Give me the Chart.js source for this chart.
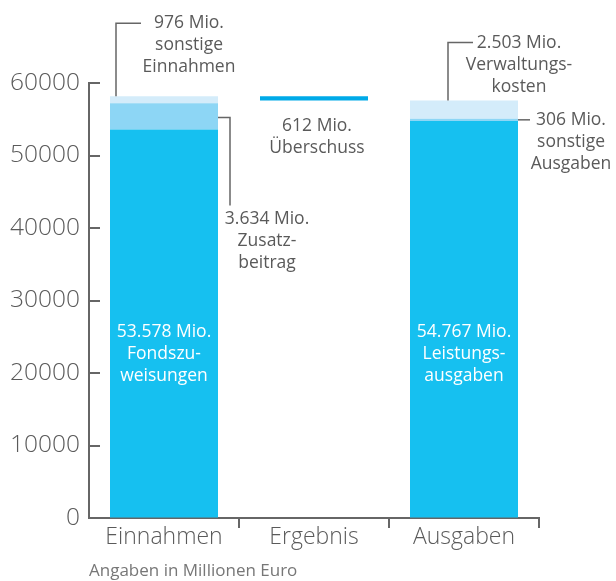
<!DOCTYPE html>
<html>
<head>
<meta charset="utf-8">
<script src="https://cdn.jsdelivr.net/npm/chart.js@4"></script>
<style>
html,body{margin:0;padding:0;background:#fff;}
#wrap{width:616px;height:581px;position:relative;}
</style>
</head>
<body>
<div id="wrap"><canvas id="c" width="616" height="581"></canvas></div>
<script>
const categories = ['Einnahmen', 'Ergebnis', 'Ausgaben'];
const baseValues = [53578, null, 54767];   // Fondszuweisungen / Leistungsausgaben
const midValues  = [3634, null, 306];      // Zusatzbeitrag / sonstige Ausgaben
const topValues  = [976, null, 2503];      // sonstige Einnahmen / Verwaltungskosten
const yTicks = [0, 10000, 20000, 30000, 40000, 50000, 60000];

const sumAt = i => (baseValues[i] || 0) + (midValues[i] || 0) + (topValues[i] || 0);
const totalIn = sumAt(0), totalOut = sumAt(2);
const surplusValues = [null, [totalOut, totalIn], null];

const insideLabels = [['53.578 Mio.', 'Fondszu-', 'weisungen'], null, ['54.767 Mio.', 'Leistungs-', 'ausgaben']];
const noteTopIn = ['976 Mio.', 'sonstige', 'Einnahmen'];
const noteMidIn = ['3.634 Mio.', 'Zusatz-', 'beitrag'];
const noteSurplus = ['612 Mio.', 'Überschuss'];
const noteTopOut = ['2.503 Mio.', 'Verwaltungs-', 'kosten'];
const noteMidOut = ['306 Mio.', 'sonstige', 'Ausgaben'];

const FONT = "'Open Sans', 'DejaVu Sans', sans-serif";
const GRAY = '#5a5a5a';
const LINE = '#666666';

const annot = {
  id: 'annot',
  afterDraw(chart) {
    const ctx = chart.ctx;
    const xs = chart.scales.x, ys = chart.scales.y, area = chart.chartArea;
    ctx.save();
    ctx.strokeStyle = LINE; ctx.lineWidth = 2;
    ys.ticks.forEach(t => {
      const py = Math.round(ys.getPixelForValue(t.value));
      ctx.beginPath(); ctx.moveTo(area.left, py); ctx.lineTo(area.left + 11, py); ctx.stroke();
    });
    for (let i = 0; i < categories.length; i++) {
      const px = Math.round(xs.getPixelForValue(i + 0.5));
      ctx.beginPath(); ctx.moveTo(px, area.bottom); ctx.lineTo(px, area.bottom + 10); ctx.stroke();
    }
    const mBase = chart.getDatasetMeta(1).data;
    const mMid = chart.getDatasetMeta(2).data;
    const mTop = chart.getDatasetMeta(3).data;
    const mSur = chart.getDatasetMeta(0).data;

    ctx.fillStyle = '#ffffff';
    ctx.font = '17.5px ' + FONT;
    ctx.textAlign = 'center'; ctx.textBaseline = 'middle';
    insideLabels.forEach((lines, i) => {
      if (!lines) return;
      const el = mBase[i];
      lines.forEach((s, k) => ctx.fillText(s, el.x, area.top + 249 + k * 22));
    });

    ctx.strokeStyle = LINE; ctx.lineWidth = 1.5;
    ctx.fillStyle = GRAY;
    ctx.font = '17.5px ' + FONT;
    const text = (lines, cx, cy) => lines.forEach((s, k) => ctx.fillText(s, cx, cy + k * 22));

    {
      const el = mTop[0]; const left = el.x - el.width / 2; const ty = el.y;
      ctx.beginPath(); ctx.moveTo(left + 6, ty); ctx.lineTo(left + 6, ty - 73); ctx.lineTo(left + 31, ty - 73); ctx.stroke();
      text(noteTopIn, left + 79, ty - 73);
    }
    {
      const el = mMid[0]; const right = el.x + el.width / 2; const my = (el.y + el.base) / 2 + 1;
      ctx.beginPath(); ctx.moveTo(right, my); ctx.lineTo(right + 12, my); ctx.lineTo(right + 12, my + 88); ctx.stroke();
      text(noteMidIn, right + 49, my + 102);
    }
    {
      const el = mSur[1];
      text(noteSurplus, el.x + 3, Math.max(el.y, el.base) + 25);
    }
    {
      const el = mTop[2]; const left = el.x - el.width / 2; const ty = el.y;
      ctx.beginPath(); ctx.moveTo(left + 38, ty); ctx.lineTo(left + 38, ty - 58); ctx.lineTo(left + 63, ty - 58); ctx.stroke();
      text(noteTopOut, left + 109, ty - 58);
    }
    {
      const el = mMid[2]; const right = el.x + el.width / 2; const my = (el.y + el.base) / 2;
      ctx.beginPath(); ctx.moveTo(right, my); ctx.lineTo(right + 12, my); ctx.stroke();
      text(noteMidOut, right + 53, my);
    }
    ctx.restore();
  }
};

new Chart(document.getElementById('c'), {
  type: 'bar',
  data: {
    labels: categories,
    datasets: [
      { label: 'Überschuss', data: surplusValues, backgroundColor: '#00AAE8' },
      { label: 'Basis', data: baseValues, backgroundColor: '#16C0F0' },
      { label: 'Mitte', data: midValues, backgroundColor: '#8DD6F5' },
      { label: 'Oben', data: topValues, backgroundColor: '#D4ECFA' }
    ]
  },
  options: {
    responsive: false,
    animation: false,
    devicePixelRatio: 1,
    layout: { padding: { top: 83, right: 77, left: 0, bottom: 0 } },
    datasets: { bar: { barPercentage: 0.9, categoryPercentage: 0.8, borderWidth: 0 } },
    plugins: { legend: { display: false }, tooltip: { enabled: false } },
    scales: {
      x: {
        stacked: true,
        grid: { display: true, drawOnChartArea: false, drawTicks: false, offset: true },
        border: { display: true, color: LINE, width: 2 },
        ticks: { color: GRAY, font: { family: FONT, size: 23, weight: 300 }, padding: 6 },
        title: { display: true, text: 'Angaben in Millionen Euro', align: 'start', color: '#777', font: { family: FONT, size: 17 }, padding: 0 },
        afterFit: s => { s.height = 63; }
      },
      y: {
        stacked: true,
        min: 0, max: 60000,
        afterBuildTicks: s => { s.ticks = yTicks.map(v => ({ value: v })); },
        grid: { drawOnChartArea: false, drawTicks: false },
        border: { display: true, color: LINE, width: 2 },
        ticks: { color: GRAY, font: { family: FONT, size: 24.5, weight: 300 }, padding: 9, callback: v => String(v) },
        afterFit: s => { s.width = 89; }
      }
    }
  },
  plugins: [annot]
});
</script>
</body>
</html>
